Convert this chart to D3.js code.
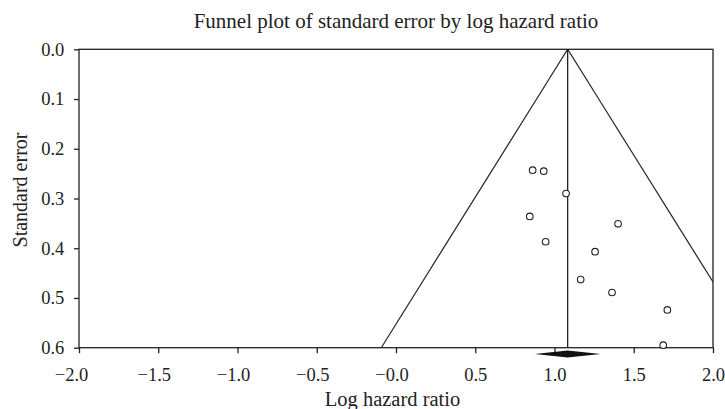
<!DOCTYPE html>
<html><head><meta charset="utf-8">
<script src="https://cdn.jsdelivr.net/npm/d3@7"></script>
<style>body{margin:0;background:#fff}svg{display:block}text{font-family:"Liberation Serif","DejaVu Serif",serif;fill:#222}</style>
</head><body>
<svg id="c" width="725" height="409"></svg>
<script>
const logHR = [0.862, 0.932, 1.073, 0.844, 1.401, 0.944, 1.256, 1.165, 1.363, 1.712, 1.686];
const stdErr = [0.243, 0.245, 0.290, 0.336, 0.351, 0.387, 0.407, 0.463, 0.489, 0.524, 0.595];
const pooled = [1.083];
const diamondRange = [0.876, 1.291];
const xTicks = [-2.0, -1.5, -1.0, -0.5, 0.0, 0.5, 1.0, 1.5, 2.0];
const xTickLabels = ["\u22122.0", "\u22121.5", "\u22121.0", "\u22120.5", "\u22120.0", "0.5", "1.0", "1.5", "2.0"];
const yTicks = [0.0, 0.1, 0.2, 0.3, 0.4, 0.5, 0.6];
const yTickLabels = ["0.0", "0.1", "0.2", "0.3", "0.4", "0.5", "0.6"];

const L = 79, R = 713, T = 49.3, B = 347.7;
const svg = d3.select("#c");
const x = d3.scaleLinear().domain([-2, 2]).range([L, R]);
const y = d3.scaleLinear().domain([0, 0.6]).range([T, B]);

svg.append("defs").append("clipPath").attr("id", "pc").append("rect")
  .attr("x", L).attr("y", T).attr("width", R - L).attr("height", B - T);

const g = svg.append("g");
g.append("rect").attr("x", L).attr("y", T).attr("width", R - L).attr("height", B - T)
  .attr("fill", "none").attr("stroke", "#222").attr("stroke-width", 1.3);

const p = pooled[0];
const funnel = g.append("g").attr("clip-path", "url(#pc)");
const seMax = 0.6;
funnel.append("line").attr("x1", x(p)).attr("y1", y(0)).attr("x2", x(p - 1.96 * seMax)).attr("y2", y(seMax))
  .attr("stroke", "#222").attr("stroke-width", 1.2);
funnel.append("line").attr("x1", x(p)).attr("y1", y(0)).attr("x2", x(p + 1.96 * seMax)).attr("y2", y(seMax))
  .attr("stroke", "#222").attr("stroke-width", 1.2);
funnel.append("line").attr("x1", x(p)).attr("y1", y(0)).attr("x2", x(p)).attr("y2", y(seMax))
  .attr("stroke", "#222").attr("stroke-width", 1.3);

g.selectAll("circle.pt").data(logHR.map((v, i) => [v, stdErr[i]])).join("circle")
  .attr("class", "pt").attr("cx", d => x(d[0])).attr("cy", d => y(d[1])).attr("r", 3.3)
  .attr("fill", "#fff").attr("stroke", "#222").attr("stroke-width", 1.1);

// x axis
const xAxis = d3.axisBottom(x).tickValues(xTicks).tickSize(5.5)
  .tickFormat((d, i) => xTickLabels[i]);
const xg = svg.append("g").attr("transform", `translate(0,${B})`).call(xAxis);
xg.select(".domain").remove();
xg.attr("font-size", null).attr("font-family", null);
xg.selectAll("line").attr("stroke", "#222").attr("stroke-width", 1.3);
xg.selectAll("text").attr("font-size", 18.5).attr("fill", "#222")
  .attr("y", 33.3).attr("dy", 0)
  .attr("dx", (d, i) => i === 0 ? -8 : (d <= 0 ? -4.5 : 0));

// y axis
const yAxis = d3.axisLeft(y).tickValues(yTicks).tickSize(5).tickPadding(9.7)
  .tickFormat((d, i) => yTickLabels[i]);
const yg = svg.append("g").attr("transform", `translate(${L},0)`).call(yAxis);
yg.select(".domain").remove();
yg.attr("font-size", null).attr("font-family", null);
yg.selectAll("line").attr("stroke", "#222").attr("stroke-width", 1.3);
yg.selectAll("text").attr("font-size", 18.5).attr("fill", "#222");

// diamond
const dy = 354, dh = 3.5;
svg.append("path")
  .attr("d", `M${x(diamondRange[0])},${dy} L${x(p)},${dy - dh} L${x(diamondRange[1])},${dy} L${x(p)},${dy + dh} Z`)
  .attr("fill", "#111");

svg.append("text").attr("x", 396).attr("y", 28).attr("text-anchor", "middle").attr("font-size", 21)
  .text("Funnel plot of standard error by log hazard ratio");
svg.append("text").attr("x", 392.5).attr("y", 406).attr("text-anchor", "middle").attr("font-size", 20.5)
  .text("Log hazard ratio");
svg.append("text").attr("transform", "translate(26.5,190) rotate(-90)").attr("text-anchor", "middle").attr("font-size", 20)
  .text("Standard error");
</script>
</body></html>
